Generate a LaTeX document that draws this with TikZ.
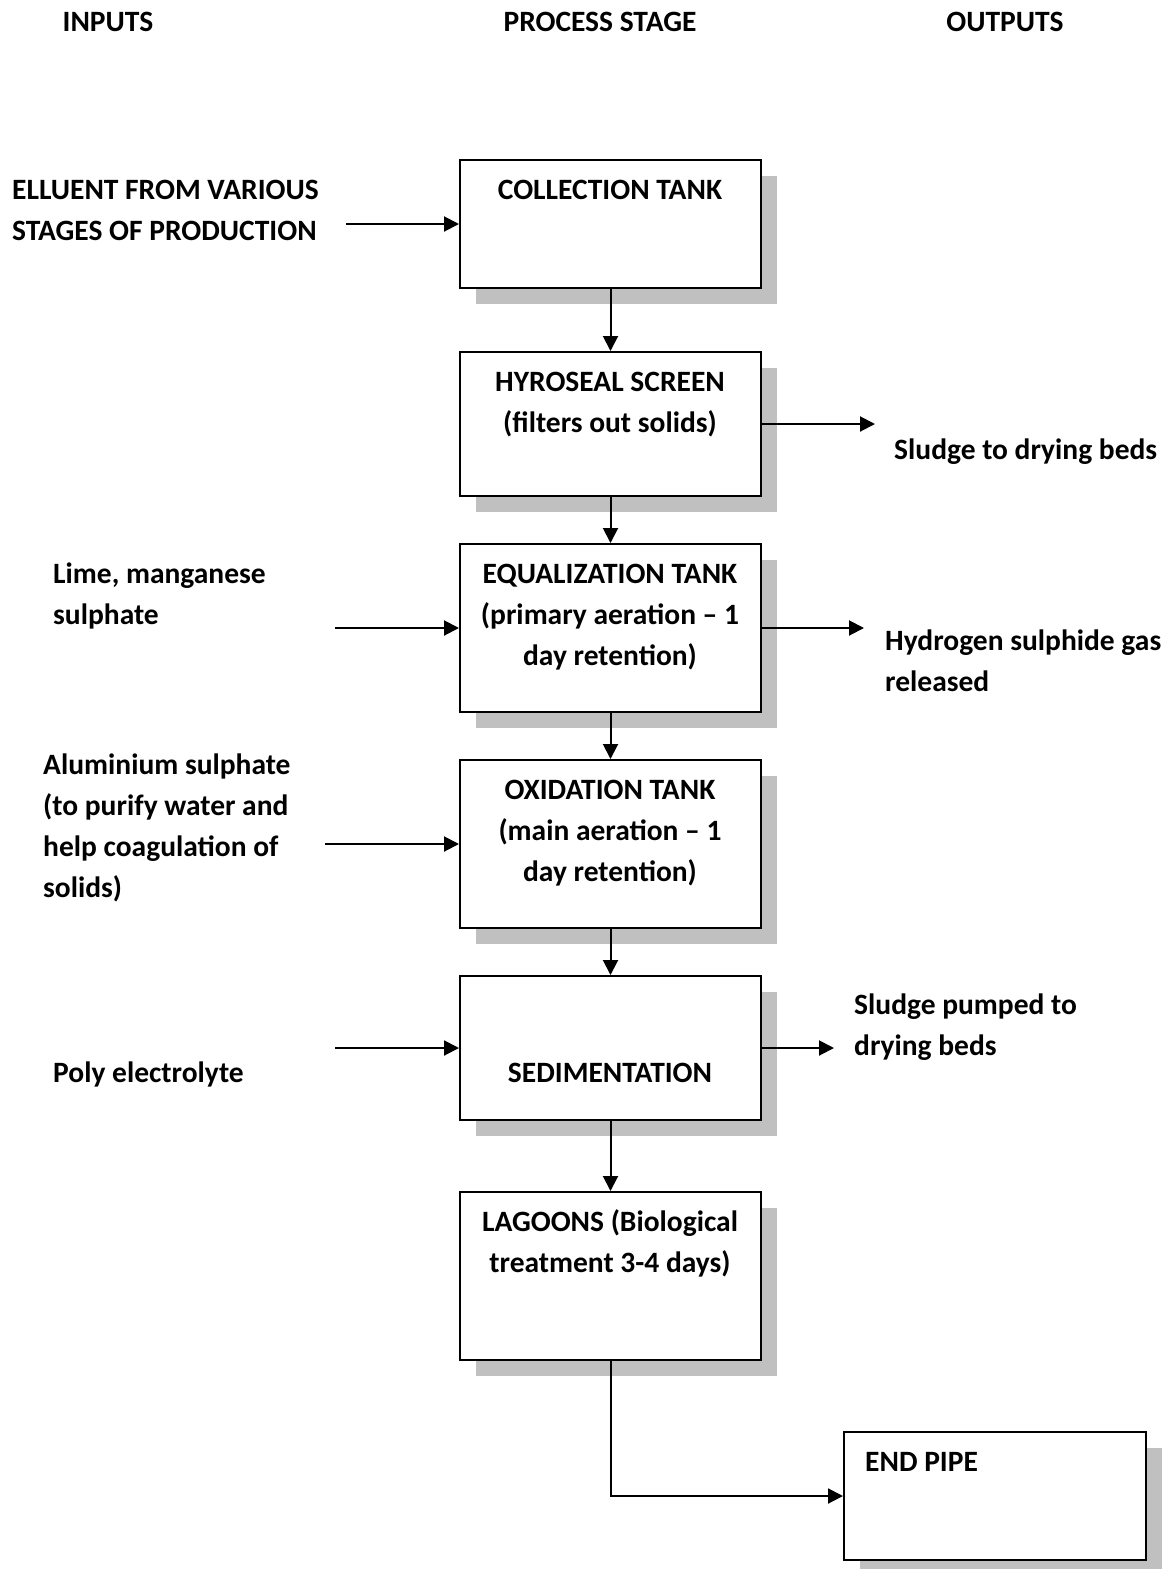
\documentclass[tikz,border=0pt]{standalone}
\usepackage{fontspec}
\setmainfont{Carlito}
\usetikzlibrary{arrows.meta,shadows}
\definecolor{shadowgray}{HTML}{C0C0C0}
\tikzset{
  stage/.style={draw=black, line width=2pt, fill=white, inner sep=0pt,
    minimum width=301pt,
    drop shadow={shadow xshift=16pt, shadow yshift=-16pt, fill=shadowgray, opacity=1}},
  txt/.style={inner sep=0pt, font=\bfseries\fontsize{29.5}{41}\selectfont},
  ltxt/.style={txt, anchor=base west, align=left},
  ctxt/.style={txt, anchor=base, align=center},
  flow/.style={line width=2pt, -{Triangle[length=15pt,width=15pt]}}
}
\begin{document}
\begin{tikzpicture}[x=1pt,y=-1pt]
\useasboundingbox (0,0) rectangle (1171,1569);

% column headings
\node[ctxt] (hin) at (108,31) {INPUTS};
\node[ctxt] (hproc) at (600,31) {PROCESS STAGE};
\node[ctxt] (hout) at (1005,31) {OUTPUTS};

% process stages
\node[stage, minimum height=128pt] (collect) at (610.5,224) {};
\node[stage, minimum height=144pt] (screen) at (610.5,424) {};
\node[stage, minimum height=168pt] (equal) at (610.5,628) {};
\node[stage, minimum height=168pt] (oxid) at (610.5,844) {};
\node[stage, minimum height=144pt] (sedim) at (610.5,1048) {};
\node[stage, minimum height=168pt] (lagoon) at (610.5,1276) {};
\node[stage, minimum height=128pt, minimum width=302pt] (endpipe) at (995,1496) {};

% stage labels (multi-line nodes sit on the baseline of their last line)
\node[ctxt] (tcollect) at (610,199) {COLLECTION TANK};
\node[ctxt] (tscreen) at (610,432) {HYROSEAL SCREEN\\(filters out solids)};
\node[ctxt] (tequal) at (610,665) {EQUALIZATION TANK\\(primary aeration – 1\\day retention)};
\node[ctxt] (toxid) at (610,881) {OXIDATION TANK\\(main aeration – 1\\day retention)};
\node[ctxt] (tsedim) at (610,1082) {SEDIMENTATION};
\node[ctxt] (tlagoon) at (610,1272) {LAGOONS (Biological\\treatment 3-4 days)};
\node[ltxt] (tend) at (865,1471) {END PIPE};

% inputs
\node[ltxt] (in1) at (12,240) {ELLUENT FROM VARIOUS\\STAGES OF PRODUCTION};
\node[ltxt] (in2) at (53,624) {Lime, manganese\\sulphate};
\node[ltxt] (in3) at (43,897) {Aluminium sulphate\\(to purify water and\\help coagulation of\\solids)};
\node[ltxt] (in4) at (53,1082) {Poly electrolyte};

% outputs
\node[ltxt] (out1) at (894,459) {Sludge to drying beds};
\node[ltxt] (out2) at (885,691) {Hydrogen sulphide gas\\released};
\node[ltxt] (out3) at (854,1055) {Sludge pumped to\\drying beds};

% free arrow ends
\coordinate (a1) at (346,224);
\coordinate (a2) at (335,628);
\coordinate (a3) at (325,844);
\coordinate (a4) at (335,1048);
\coordinate (b1) at (875,424);
\coordinate (b2) at (864,628);
\coordinate (b3) at (834,1048);

% main flow
\draw[flow] (collect) -- (screen);
\draw[flow] (screen) -- (equal);
\draw[flow] (equal) -- (oxid);
\draw[flow] (oxid) -- (sedim);
\draw[flow] (sedim) -- (lagoon);
\draw[flow] (lagoon.south) |- (endpipe.west);

% inputs into stages
\draw[flow] (a1) -- (collect.west);
\draw[flow] (a2) -- (equal.west);
\draw[flow] (a3) -- (oxid.west);
\draw[flow] (a4) -- (sedim.west);

% outputs from stages
\draw[flow] (screen.east) -- (b1);
\draw[flow] (equal.east) -- (b2);
\draw[flow] (sedim.east) -- (b3);
\end{tikzpicture}
\end{document}
